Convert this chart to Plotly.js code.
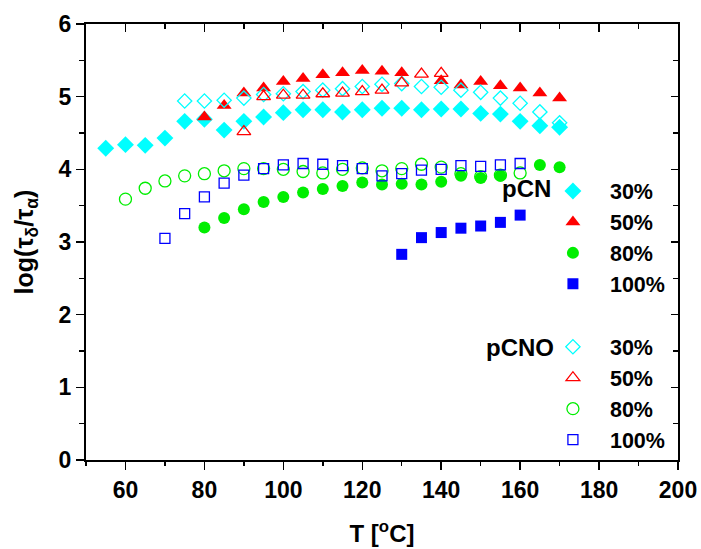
<!DOCTYPE html>
<html>
<head>
<meta charset="utf-8">
<script src="https://cdn.plot.ly/plotly-3.0.1.min.js"></script>
<style>html,body{margin:0;padding:0;background:#fff;}#chart{width:701px;height:549px;}</style>
</head>
<body>
<div id="chart"></div>
<script>
// ---- data ----
const pCN30_T = [55,60,65,70,75,80,85,90,95,100,105,110,115,120,125,130,135,140,145,150,155,160,165,170];
const pCN30   = [4.29,4.34,4.33,4.43,4.66,4.69,4.54,4.66,4.72,4.78,4.82,4.82,4.79,4.82,4.84,4.84,4.82,4.83,4.83,4.77,4.76,4.66,4.60,4.58];

const pCN50_T = [80,85,90,95,100,105,110,115,120,125,130,140,145,150,155,160,165,170];
const pCN50   = [4.72,4.88,5.05,5.12,5.21,5.25,5.30,5.33,5.36,5.35,5.33,5.22,5.16,5.21,5.15,5.12,5.05,4.98];

const pCN80_T = [80,85,90,95,100,105,110,115,120,125,130,135,140,145,150,155,165,170];
const pCN80   = [3.20,3.33,3.45,3.55,3.62,3.68,3.73,3.77,3.82,3.79,3.80,3.79,3.83,3.91,3.88,3.91,4.06,4.03];

const pCN100_T = [130,135,140,145,150,155,160];
const pCN100   = [2.83,3.06,3.13,3.19,3.22,3.27,3.37];

const pCNO30_T = [75,80,85,90,95,100,105,110,115,120,125,130,135,140,145,150,155,160,165,170];
const pCNO30   = [4.94,4.94,4.95,4.98,5.03,5.04,5.07,5.09,5.11,5.14,5.17,5.18,5.14,5.13,5.09,5.06,4.98,4.91,4.79,4.64];

const pCNO50_T = [90,95,100,105,110,115,120,125,130,135,140];
const pCNO50   = [4.52,5.00,5.02,5.02,5.04,5.05,5.07,5.09,5.19,5.31,5.32];

const pCNO80_T = [60,65,70,75,80,85,90,95,100,105,110,115,120,125,130,135,140,145,150,155,160];
const pCNO80   = [3.59,3.74,3.84,3.91,3.94,3.98,4.01,4.01,4.00,3.97,3.95,4.00,4.02,3.98,4.01,4.07,4.03,3.94,3.90,3.92,3.95];

const pCNO100_T = [70,75,80,85,90,95,100,105,110,115,120,125,130,135,140,145,150,155,160];
const pCNO100   = [3.05,3.39,3.62,3.81,3.92,4.01,4.06,4.08,4.07,4.05,4.01,3.91,3.94,3.99,4.00,4.05,4.04,4.06,4.08];

const seriesNames = ['30%','50%','80%','100%'];
const groupLabels = ['pCN','pCNO'];
const xTitle = 'T [<sup>o</sup>C]';
const yTitle = 'log(τ<sub>δ</sub>/τ<sub>α</sub>)';

// ---- styling ----
const CYAN = '#00ffff', RED = '#ff0000', GREEN = '#00ee00', BLUE = '#0000ff';
const FONT = 'Liberation Sans, Arial, sans-serif';

function mk(x, y, name, group, symbol, color, size, open) {
  return {
    type: 'scatter', mode: 'markers', x: x, y: y, name: name,
    legendgroup: group, showlegend: true,
    marker: open
      ? {symbol: symbol + '-open', color: color, size: size, line: {color: color, width: 1.3}}
      : {symbol: symbol, color: color, size: size, line: {width: 0}},
    hoverinfo: 'skip'
  };
}

const traces = [
  mk(pCN30_T, pCN30, seriesNames[0], groupLabels[0], 'diamond', CYAN, 13, false),
  mk(pCN50_T, pCN50, seriesNames[1], groupLabels[0], 'triangle-up', RED, 13, false),
  mk(pCN80_T, pCN80, seriesNames[2], groupLabels[0], 'circle', GREEN, 12, false),
  mk(pCN100_T, pCN100, seriesNames[3], groupLabels[0], 'square', BLUE, 11, false),
  mk(pCNO30_T, pCNO30, seriesNames[0], groupLabels[1], 'diamond', CYAN, 11, true),
  mk(pCNO50_T, pCNO50, seriesNames[1], groupLabels[1], 'triangle-up', RED, 12, true),
  mk(pCNO80_T, pCNO80, seriesNames[2], groupLabels[1], 'circle', GREEN, 12, true),
  mk(pCNO100_T, pCNO100, seriesNames[3], groupLabels[1], 'square', BLUE, 10, true)
];

const tickFont = {family: FONT, size: 23, color: '#000', weight: 'bold'};

const layout = {
  width: 701, height: 549,
  paper_bgcolor: '#fff', plot_bgcolor: '#fff',
  margin: {l: 86, r: 23, t: 24, b: 89, pad: 0},
  font: {family: FONT, color: '#000'},
  showlegend: true,
  legend: {
    x: 0.76, xanchor: 'left', y: 0.664, yanchor: 'top',
    bgcolor: 'rgba(0,0,0,0)', borderwidth: 0,
    font: {family: FONT, size: 21.5, color: '#000', weight: 'bold'},
    traceorder: 'grouped', tracegroupgap: 32, itemwidth: 64,
    itemclick: false, itemdoubleclick: false
  },
  xaxis: {
    range: [50, 200], tick0: 0, dtick: 20,
    ticks: 'outside', ticklen: 8, tickwidth: 1.5, tickcolor: '#000',
    minor: {dtick: 10, tick0: 0, ticks: 'outside', ticklen: 4, tickwidth: 1.5, tickcolor: '#000', showgrid: false},
    showline: true, linewidth: 2, linecolor: '#000',
    showgrid: false, zeroline: false,
    tickfont: tickFont,
    title: {text: xTitle, font: {family: FONT, size: 24, color: '#000', weight: 'bold'}, standoff: 24},
    automargin: false
  },
  yaxis: {
    range: [0, 6], tick0: 0, dtick: 1,
    ticks: 'outside', ticklen: 8, tickwidth: 1.5, tickcolor: '#000',
    minor: {dtick: 0.5, tick0: 0, ticks: 'outside', ticklen: 5, tickwidth: 1.5, tickcolor: '#000', showgrid: false},
    showline: true, linewidth: 2, linecolor: '#000',
    showgrid: false, zeroline: false,
    tickfont: tickFont,
    title: {text: yTitle, font: {family: FONT, size: 25, color: '#000', weight: 'bold'}, standoff: 18},
    automargin: false
  },
  xaxis2: {
    overlaying: 'x', side: 'top', anchor: 'y', matches: 'x',
    range: [50, 200], tick0: 0, dtick: 20,
    ticks: 'inside', ticklen: 8, tickwidth: 1.5, tickcolor: '#000',
    minor: {dtick: 10, tick0: 0, ticks: 'inside', ticklen: 5, tickwidth: 1.5, tickcolor: '#000', showgrid: false},
    showticklabels: false, showline: true, linewidth: 2, linecolor: '#000',
    showgrid: false, zeroline: false
  },
  yaxis2: {
    overlaying: 'y', side: 'right', anchor: 'x',
    range: [0, 6], tick0: 0, dtick: 1,
    ticks: 'inside', ticklen: 7, tickwidth: 1.5, tickcolor: '#000',
    minor: {dtick: 0.5, tick0: 0, ticks: 'inside', ticklen: 5, tickwidth: 1.5, tickcolor: '#000', showgrid: false},
    showticklabels: false, showline: true, linewidth: 2, linecolor: '#000',
    showgrid: false, zeroline: false
  },
  annotations: [
    {text: groupLabels[0], xref: 'paper', yref: 'paper', x: 0.789, y: 0.622, xanchor: 'right', yanchor: 'middle',
     showarrow: false, font: {family: FONT, size: 24, color: '#000', weight: 'bold'}},
    {text: groupLabels[1], xref: 'paper', yref: 'paper', x: 0.794, y: 0.2576, xanchor: 'right', yanchor: 'middle',
     showarrow: false, font: {family: FONT, size: 24, color: '#000', weight: 'bold'}}
  ]
};

// empty helper trace so the mirror axes are drawn
traces.push({type: 'scatter', mode: 'markers', x: [], y: [], xaxis: 'x2', yaxis: 'y2', showlegend: false, hoverinfo: 'skip'});

Plotly.newPlot('chart', traces, layout, {staticPlot: true, displayModeBar: false});
</script>
</body>
</html>
